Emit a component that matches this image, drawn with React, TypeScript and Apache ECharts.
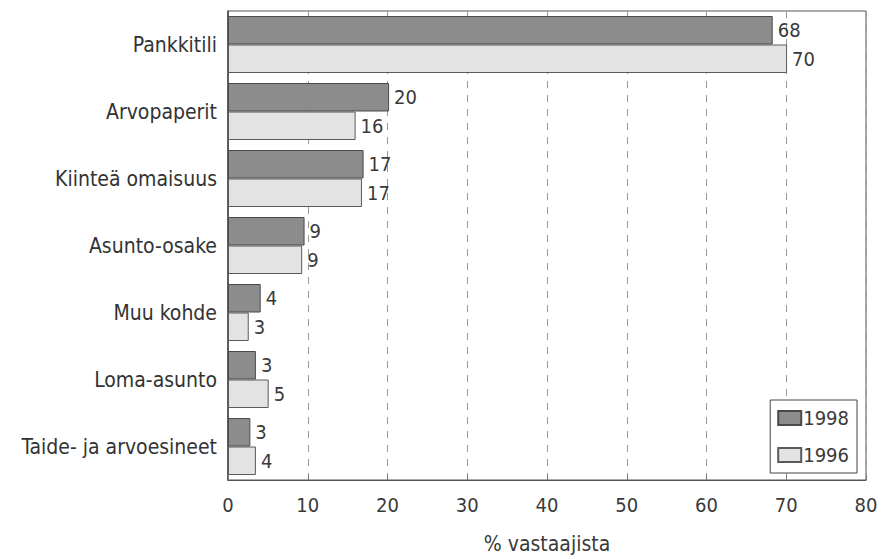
import React, { useEffect, useRef } from "react";
import * as echarts from "echarts";

const categories = [
  "Pankkitili",
  "Arvopaperit",
  "Kiinteä omaisuus",
  "Asunto-osake",
  "Muu kohde",
  "Loma-asunto",
  "Taide- ja arvoesineet",
];
const values1998 = [68.3, 20.2, 17.0, 9.6, 4.1, 3.5, 2.8];
const values1996 = [70.1, 16.0, 16.8, 9.3, 2.6, 5.1, 3.5];
const labels1998 = ["68", "20", "17", "9", "4", "3", "3"];
const labels1996 = ["70", "16", "17", "9", "3", "5", "4"];
const xTicks = [0, 10, 20, 30, 40, 50, 60, 70, 80];

const FONT = "'DejaVu Sans Condensed', 'Liberation Sans Narrow', 'Roboto', sans-serif";

export default function App() {
  const ref = useRef<HTMLDivElement>(null);
  useEffect(() => {
    document.body.style.margin = "0";
    const chart = echarts.init(ref.current!, null, { renderer: "svg" });
    chart.setOption({
      animation: false,
      backgroundColor: "#ffffff",
      textStyle: { fontFamily: FONT },
      grid: {
        left: 228,
        right: 22,
        top: 11,
        bottom: 75,
        show: true,
        borderColor: "#555",
        borderWidth: 1,
      },
      legend: {
        orient: "vertical",
        right: 31,
        bottom: 86,
        itemWidth: 23,
        itemHeight: 14,
        itemGap: 17,
        padding: [8, 8, 8, 7],
        borderColor: "#444",
        borderWidth: 1,
        backgroundColor: "#fff",
        icon: "rect",
        textStyle: { fontFamily: FONT, fontSize: 20, lineHeight: 20, color: "#3a3a3a", padding: [0, 0, 0, -3] },
        data: ["1998", "1996"],
      },
      xAxis: {
        type: "value",
        min: xTicks[0],
        max: xTicks[xTicks.length - 1],
        interval: 10,
        name: "% vastaajista",
        nameLocation: "middle",
        nameGap: 53,
        nameTextStyle: { fontFamily: FONT, fontSize: 21, color: "#3a3a3a" },
        axisLine: { show: true, lineStyle: { color: "#555", width: 1 } },
        axisTick: { show: true, inside: true, length: 5, lineStyle: { color: "#777" } },
        axisLabel: { fontFamily: FONT, fontSize: 20, color: "#3a3a3a", margin: 15 },
        splitLine: {
          show: true,
          lineStyle: { color: "#999", type: [7, 7], width: 1 },
        },
      },
      yAxis: {
        type: "category",
        data: categories,
        inverse: true,
        axisLine: { show: true, lineStyle: { color: "#444", width: 1.5 } },
        axisTick: { show: false },
        axisLabel: { fontFamily: FONT, fontSize: 21, color: "#333", margin: 11 },
        splitLine: { show: false },
      },
      series: [
        {
          name: "1998",
          type: "bar",
          data: values1998,
          barWidth: 28.5,
          barGap: "0%",
          itemStyle: { color: "#8c8c8c", borderColor: "#4a4a4a", borderWidth: 1 },
          label: {
            show: true,
            position: "right",
            distance: 5,
            fontFamily: FONT,
            fontSize: 20,
            color: "#3a3a3a",
            formatter: (p: any) => labels1998[p.dataIndex],
          },
        },
        {
          name: "1996",
          type: "bar",
          data: values1996,
          barWidth: 28.5,
          barGap: "0%",
          itemStyle: { color: "#e3e3e3", borderColor: "#5a5a5a", borderWidth: 1 },
          label: {
            show: true,
            position: "right",
            distance: 5,
            fontFamily: FONT,
            fontSize: 20,
            color: "#3a3a3a",
            formatter: (p: any) => labels1996[p.dataIndex],
          },
        },
      ],
    });
    return () => chart.dispose();
  }, []);
  return (
    <div
      ref={ref}
      style={{ position: "absolute", left: 0, top: 0, width: 888, height: 559 }}
    />
  );
}
